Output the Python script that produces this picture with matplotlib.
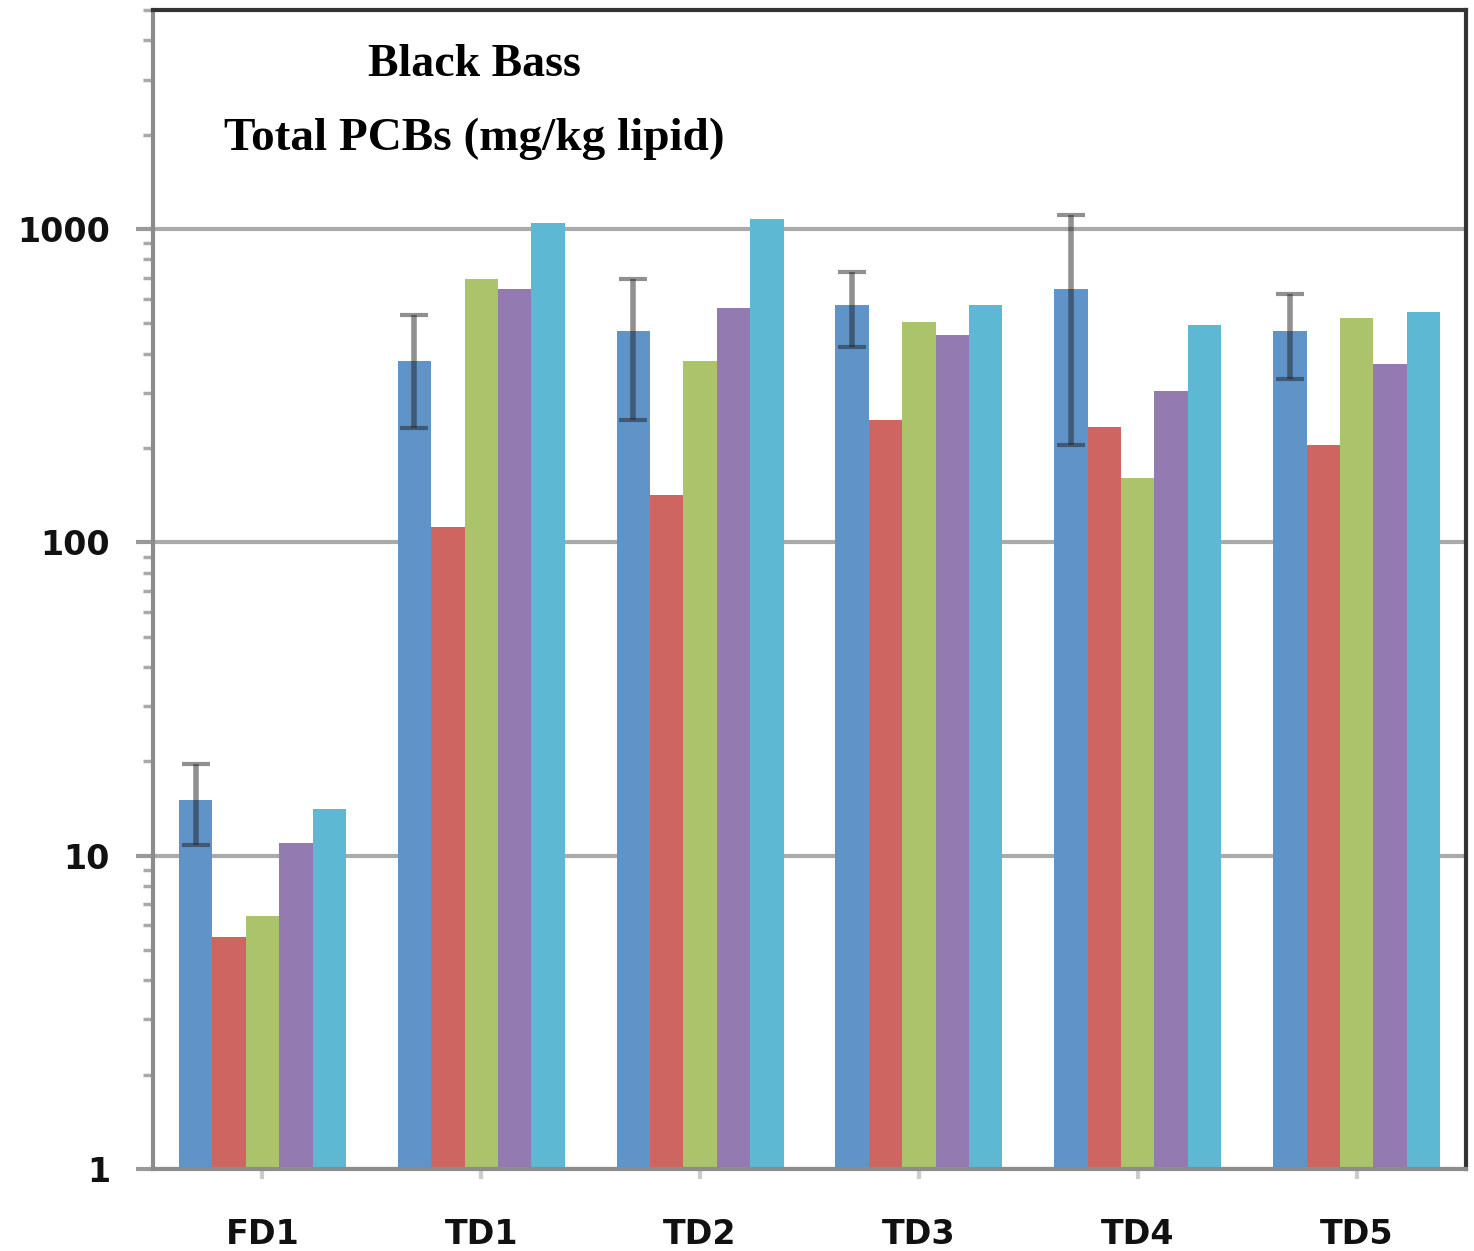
import numpy as np
from matplotlib import pyplot as plt

# values (log axis)
sites = ['FD1', 'TD1', 'TD2', 'TD3', 'TD4', 'TD5']
s1 = [15.1, 380, 473, 572, 644, 473]
s1_lo = [10.8, 231, 245, 421, 205, 331]
s1_hi = [19.6, 532, 693, 730, 1109, 621]
s2 = [5.5, 112, 142, 246, 234, 205]
s3 = [6.4, 693, 380, 506, 160, 521]
s4 = [11.0, 644, 560, 460, 305, 372]
s5 = [14.1, 1045, 1076, 572, 494, 544]

series = [s1, s2, s3, s4, s5]
colors = ['#6094C9', '#CE6560', '#ABC46C', '#937BB2', '#5CB8D3']

fig = plt.figure(figsize=(14.74, 12.51), dpi=100)
ax = fig.add_axes([0.1038, 0.0656, 0.8908, 0.9264])

x = np.arange(len(sites))
w = 0.1526
for i, (vals, c) in enumerate(zip(series, colors)):
    pos = x + (i - 2) * w
    ax.bar(pos, vals, width=w, color=c, bottom=0, zorder=2)

# error bars on the first series
lo = np.array(s1) - np.array(s1_lo)
hi = np.array(s1_hi) - np.array(s1)
ax.errorbar(x - 2 * w, s1, yerr=[lo, hi], fmt='none', ecolor='#222222',
            alpha=0.5, elinewidth=4, capsize=10, capthick=3, zorder=3)

ax.set_yscale('log')
ax.set_ylim(1, 5000)
ax.set_xlim(-0.5, 5.5)
ax.set_yticks([1, 10, 100, 1000])
ax.set_yticklabels(['1', '10', '100', '1000'])
ax.set_xticks(x)
ax.set_xticklabels(sites)

ax.grid(axis='y', which='major', color='#aaaaaa', linewidth=3, zorder=1)
ax.set_axisbelow(True)

for side in ['left', 'bottom']:
    ax.spines[side].set_color('#8c8c8c')
    ax.spines[side].set_linewidth(3)
for side in ['top', 'right']:
    ax.spines[side].set_color('#333333')
    ax.spines[side].set_linewidth(3)

ax.tick_params(axis='y', which='major', length=12, width=3, color='#999999',
               labelsize=24, pad=19)
ax.tick_params(axis='y', which='minor', length=7, width=2.5, color='#aaaaaa')
ax.tick_params(axis='x', length=7, width=3, color='#cccccc', labelsize=24, pad=28)
for lab in ax.get_xticklabels() + ax.get_yticklabels():
    lab.set_fontfamily('DejaVu Sans')
    lab.set_fontweight('bold')
    lab.set_color('#111111')

fig.text(0.322, 0.948, 'Black Bass', fontsize=33, fontweight='bold',
         family='Liberation Serif', ha='center', va='center')
fig.text(0.322, 0.889, 'Total PCBs (mg/kg lipid)', fontsize=34, fontweight='bold',
         family='Liberation Serif', ha='center', va='center')

fig.savefig('out.png', dpi=100)
